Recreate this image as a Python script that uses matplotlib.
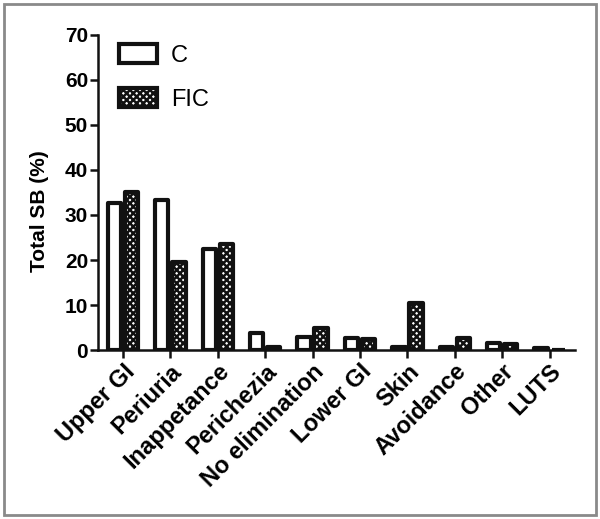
import matplotlib
matplotlib.use('Agg')
import matplotlib.pyplot as plt
from matplotlib.patches import Rectangle
import numpy as np

plt.rcParams['font.family'] = ['Liberation Sans', 'DejaVu Sans']
plt.rcParams['hatch.linewidth'] = 1.8

categories = ['Upper GI', 'Periuria', 'Inappetance', 'Perichezia', 'No elimination',
              'Lower GI', 'Skin', 'Avoidance', 'Other', 'LUTS']
c_vals = [32.7, 33.3, 22.4, 3.8, 3.0, 2.7, 0.7, 0.7, 1.5, 0.5]
fic_vals = [35.1, 19.5, 23.5, 0.7, 5.0, 2.4, 10.5, 2.6, 1.4, 0.0]
yticks = [0, 10, 20, 30, 40, 50, 60, 70]

fig = plt.figure(figsize=(6, 5.19), dpi=100)
ax = fig.add_axes([0.163, 0.3256, 0.795, 0.607])

x = np.arange(len(categories))
w = 0.28
ax.bar(x - 0.18, c_vals, w, facecolor='white', edgecolor='#111111',
       linewidth=3, joinstyle='round', label='C')
ax.bar(x + 0.18, fic_vals, w, facecolor='white', edgecolor='#111111',
       linewidth=3, joinstyle='round', hatch='xxxxx', label='FIC')

ax.set_xlim(-0.53, 9.53)
ax.set_ylim(0, 70)
ax.set_yticks(yticks)
ax.set_xticks(x)
ax.set_xticklabels(categories, rotation=45, ha='right', rotation_mode='anchor',
                   fontsize=17, fontweight='bold')
ax.set_yticklabels([str(v) for v in yticks], fontsize=15, fontweight='bold')
ax.set_ylabel('Total SB (%)', fontsize=15, fontweight='bold')
ax.yaxis.set_label_coords(-0.103, 0.44)

for s in ['top', 'right']:
    ax.spines[s].set_visible(False)
for s in ['left', 'bottom']:
    ax.spines[s].set_linewidth(1.8)
    ax.spines[s].set_color('#111111')
ax.tick_params(axis='both', direction='out', width=1.8, length=6, pad=1, color='#111111')

ax.legend(loc='upper left', bbox_to_anchor=(0.0, 1.04), frameon=False,
          fontsize=17, handlelength=1.6, handleheight=0.9, labelspacing=0.9,
          handletextpad=0.6)

fig.add_artist(Rectangle((0.007, 0.008), 0.986, 0.984, transform=fig.transFigure,
                         fill=False, edgecolor='#8a8a8a', linewidth=2))

fig.savefig('out.png', dpi=100)
